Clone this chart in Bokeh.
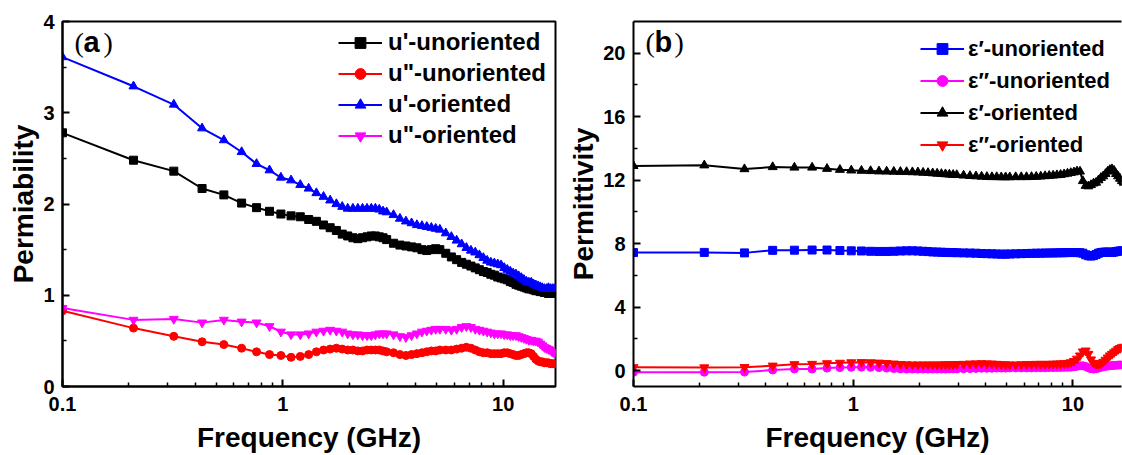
from bokeh.plotting import figure
from bokeh.layouts import row
from bokeh.models import (FixedTicker, CustomJSTickFormatter, Legend, LegendItem,
                          Label, LogAxis, Range1d)
from bokeh.embed import file_html
from bokeh.resources import INLINE

# ---------------- data ----------------
freq = [0.10, 0.21, 0.32, 0.43, 0.54, 0.65, 0.76, 0.87, 0.98, 1.09,
        1.20, 1.31, 1.42, 1.53, 1.64, 1.75, 1.86, 1.97, 2.08, 2.19,
        2.30, 2.41, 2.52, 2.63, 2.74, 2.85, 2.96, 3.18, 3.40, 3.62,
        3.84, 4.06, 4.28, 4.50, 4.72, 4.94, 5.16, 5.49, 5.82, 6.15,
        6.48, 6.81, 7.14, 7.47, 7.80, 8.13, 8.46, 8.79, 9.12, 9.45,
        9.78, 10.11, 10.44, 10.77, 11.10, 11.43, 11.76, 12.09, 12.42, 12.75,
        13.08, 13.41, 13.74, 14.07, 14.40, 14.73, 15.06, 15.39, 15.72, 16.05,
        16.38, 16.71, 17.04, 17.37]

# panel (a) permeability
mu1_unoriented = [2.78, 2.48, 2.36, 2.17, 2.10, 2.01, 1.96, 1.92, 1.89, 1.87,
                  1.86, 1.83, 1.81, 1.77, 1.74, 1.71, 1.67, 1.65, 1.63, 1.62,
                  1.63, 1.64, 1.65, 1.65, 1.64, 1.63, 1.61, 1.57, 1.55, 1.54,
                  1.53, 1.52, 1.50, 1.49, 1.50, 1.51, 1.50, 1.46, 1.42, 1.39,
                  1.36, 1.34, 1.32, 1.30, 1.28, 1.26, 1.25, 1.23, 1.22, 1.20,
                  1.19, 1.18, 1.17, 1.15, 1.14, 1.12, 1.11, 1.10, 1.09, 1.08,
                  1.07, 1.07, 1.06, 1.05, 1.05, 1.04, 1.04, 1.03, 1.03, 1.02,
                  1.02, 1.02, 1.02, 1.02]
mu2_unoriented = [0.83, 0.64, 0.55, 0.49, 0.46, 0.42, 0.38, 0.35, 0.34, 0.32,
                  0.33, 0.35, 0.38, 0.40, 0.41, 0.42, 0.41, 0.40, 0.40, 0.39,
                  0.39, 0.40, 0.40, 0.40, 0.40, 0.39, 0.38, 0.37, 0.35, 0.34,
                  0.35, 0.36, 0.37, 0.38, 0.39, 0.39, 0.40, 0.40, 0.40, 0.41,
                  0.42, 0.43, 0.42, 0.40, 0.38, 0.37, 0.37, 0.36, 0.36, 0.36,
                  0.36, 0.37, 0.37, 0.36, 0.35, 0.34, 0.34, 0.35, 0.36, 0.37,
                  0.37, 0.36, 0.33, 0.30, 0.28, 0.27, 0.27, 0.26, 0.26, 0.26,
                  0.25, 0.25, 0.25, 0.25]
mu1_oriented = [3.61, 3.29, 3.09, 2.83, 2.70, 2.57, 2.44, 2.37, 2.29, 2.26,
                2.21, 2.17, 2.12, 2.08, 2.04, 2.00, 1.97, 1.95, 1.95, 1.95,
                1.95, 1.95, 1.95, 1.95, 1.94, 1.92, 1.91, 1.88, 1.84, 1.81,
                1.79, 1.77, 1.76, 1.75, 1.74, 1.73, 1.72, 1.68, 1.64, 1.60,
                1.56, 1.52, 1.49, 1.47, 1.44, 1.41, 1.38, 1.36, 1.35, 1.34,
                1.33, 1.30, 1.28, 1.26, 1.24, 1.23, 1.21, 1.19, 1.17, 1.15,
                1.14, 1.14, 1.12, 1.11, 1.10, 1.09, 1.08, 1.07, 1.07, 1.08,
                1.07, 1.07, 1.07, 1.07]
mu2_oriented = [0.86, 0.73, 0.74, 0.70, 0.73, 0.71, 0.70, 0.66, 0.60, 0.57,
                0.57, 0.58, 0.60, 0.61, 0.62, 0.61, 0.60, 0.58, 0.57, 0.57,
                0.56, 0.56, 0.56, 0.57, 0.58, 0.58, 0.58, 0.57, 0.55, 0.54,
                0.56, 0.58, 0.60, 0.61, 0.62, 0.63, 0.63, 0.63, 0.62, 0.63,
                0.65, 0.66, 0.65, 0.63, 0.62, 0.61, 0.60, 0.59, 0.58, 0.58,
                0.58, 0.57, 0.57, 0.56, 0.56, 0.56, 0.55, 0.54, 0.53, 0.52,
                0.51, 0.51, 0.50, 0.50, 0.49, 0.47, 0.45, 0.43, 0.42, 0.41,
                0.40, 0.38, 0.37, 0.36]

# panel (b) permittivity
eps1_unoriented = [7.44, 7.45, 7.42, 7.58, 7.59, 7.60, 7.60, 7.57, 7.55, 7.54,
                   7.52, 7.51, 7.51, 7.52, 7.54, 7.55, 7.55, 7.54, 7.52, 7.50,
                   7.48, 7.47, 7.46, 7.45, 7.44, 7.44, 7.43, 7.42, 7.41, 7.40,
                   7.38, 7.37, 7.36, 7.35, 7.34, 7.34, 7.35, 7.36, 7.37, 7.38,
                   7.39, 7.40, 7.40, 7.41, 7.41, 7.42, 7.42, 7.43, 7.43, 7.44,
                   7.44, 7.44, 7.44, 7.43, 7.40, 7.30, 7.24, 7.22, 7.25, 7.32,
                   7.40, 7.44, 7.46, 7.47, 7.47, 7.46, 7.45, 7.47, 7.50, 7.52,
                   7.54, 7.55, 7.56, 7.56]
eps2_unoriented = [-0.10, -0.10, -0.09, 0.04, 0.10, 0.10, 0.16, 0.19, 0.21, 0.22,
                   0.21, 0.19, 0.16, 0.13, 0.11, 0.10, 0.10, 0.10, 0.10, 0.10,
                   0.10, 0.10, 0.10, 0.10, 0.11, 0.11, 0.11, 0.12, 0.13, 0.14,
                   0.15, 0.15, 0.15, 0.16, 0.16, 0.16, 0.17, 0.17, 0.17, 0.17,
                   0.17, 0.18, 0.18, 0.18, 0.19, 0.19, 0.20, 0.20, 0.21, 0.21,
                   0.22, 0.24, 0.27, 0.30, 0.31, 0.26, 0.18, 0.12, 0.10, 0.12,
                   0.16, 0.21, 0.24, 0.27, 0.29, 0.31, 0.32, 0.33, 0.34, 0.35,
                   0.36, 0.36, 0.36, 0.36]
eps1_oriented = [12.90, 12.94, 12.70, 12.83, 12.80, 12.80, 12.72, 12.66, 12.62, 12.60,
                 12.58, 12.56, 12.55, 12.54, 12.53, 12.52, 12.51, 12.50, 12.48, 12.46,
                 12.44, 12.42, 12.40, 12.38, 12.36, 12.34, 12.33, 12.30, 12.27, 12.25,
                 12.23, 12.21, 12.20, 12.20, 12.19, 12.19, 12.19, 12.20, 12.20, 12.20,
                 12.21, 12.22, 12.24, 12.26, 12.28, 12.30, 12.32, 12.34, 12.38, 12.42,
                 12.46, 12.50, 12.56, 12.55, 11.95, 11.65, 11.62, 11.70, 11.80, 11.85,
                 12.00, 12.15, 12.25, 12.40, 12.55, 12.65, 12.70, 12.60, 12.40, 12.25,
                 12.10, 11.95, 11.85, 11.85]
eps2_oriented = [0.21, 0.20, 0.22, 0.31, 0.40, 0.42, 0.46, 0.49, 0.52, 0.53,
                 0.52, 0.50, 0.47, 0.44, 0.41, 0.39, 0.38, 0.38, 0.38, 0.38,
                 0.38, 0.38, 0.38, 0.39, 0.39, 0.40, 0.41, 0.42, 0.44, 0.45,
                 0.46, 0.45, 0.44, 0.42, 0.40, 0.39, 0.38, 0.38, 0.39, 0.40,
                 0.41, 0.42, 0.42, 0.42, 0.42, 0.43, 0.44, 0.45, 0.46, 0.48,
                 0.52, 0.60, 0.75, 0.95, 1.20, 1.26, 1.05, 0.70, 0.48, 0.42,
                 0.42, 0.46, 0.55, 0.68, 0.82, 0.95, 1.05, 1.15, 1.25, 1.35,
                 1.42, 1.47, 1.50, 1.50]

labels_a = ["u'-unoriented", 'u"-unoriented', "u'-oriented", 'u"-oriented']
labels_b = ["\u03b5\u2032-unoriented", "\u03b5\u2033-unoriented",
            "\u03b5\u2032-oriented", "\u03b5\u2033-oriented"]

x_major = [0.1, 1, 10]
x_minor = [0.2, 0.3, 0.4, 0.5, 0.6, 0.7, 0.8, 0.9, 2, 3, 4, 5, 6, 7, 8, 9]
ya_major = [0, 1, 2, 3, 4]
ya_minor = [0.5, 1.5, 2.5, 3.5]
yb_major = [0, 4, 8, 12, 16, 20]
yb_minor = [2, 6, 10, 14, 18]

FONT = "Liberation Sans"
SERIF = "Liberation Serif"


def style_axis(ax):
    ax.axis_line_width = 2
    ax.axis_line_color = "black"
    ax.major_tick_line_width = 2
    ax.minor_tick_line_width = 1.5
    ax.major_tick_in = 7
    ax.major_tick_out = 0
    ax.minor_tick_in = 4
    ax.minor_tick_out = 0
    ax.major_label_text_font = FONT
    ax.major_label_text_font_style = "bold"
    ax.major_label_text_font_size = "20px"
    ax.major_label_text_color = "black"
    ax.axis_label_text_font = FONT
    ax.axis_label_text_font_style = "bold"
    ax.axis_label_text_font_size = "28px"
    ax.axis_label_text_color = "black"


def make_fig(width, bl, br, x_end, y_rng, ymaj, ymin, ylabel):
    p = figure(width=width, height=455, x_axis_type="log",
               x_range=Range1d(0.1, x_end), y_range=Range1d(*y_rng),
               output_backend="svg", toolbar_location=None,
               min_border_left=bl, min_border_right=br,
               min_border_top=21, min_border_bottom=69)
    p.grid.visible = False
    p.background_fill_color = "white"
    p.border_fill_color = "white"
    p.xaxis.ticker = FixedTicker(ticks=x_major, minor_ticks=x_minor)
    p.xaxis.formatter = CustomJSTickFormatter(code="return tick.toString();")
    p.yaxis.ticker = FixedTicker(ticks=ymaj, minor_ticks=ymin)
    p.xaxis.axis_label = "Frequency (GHz)"
    p.yaxis.axis_label = ylabel
    style_axis(p.xaxis[0])
    style_axis(p.yaxis[0])
    p.xaxis.major_label_standoff = 10
    p.xaxis.axis_label_standoff = 8
    p.yaxis.major_label_standoff = 8
    p.yaxis.axis_label_standoff = 1
    return p


def add_series(p, y, color, marker, size):
    ln = p.line(freq, y, line_color=color, line_width=2)
    sc = p.scatter(freq, y, marker=marker, size=size, fill_color=color,
                   line_color=color)
    return [ln, sc]


def add_legend(p, rends, labels, loc, spacing, gw, standoff, fsize):
    items = [LegendItem(label=l, renderers=r) for l, r in zip(labels, rends)]
    leg = Legend(items=items, location=loc, padding=0, margin=0,
                 spacing=spacing, glyph_width=gw, glyph_height=27,
                 label_height=27, label_standoff=standoff,
                 border_line_color=None, background_fill_alpha=0,
                 label_text_font=FONT, label_text_font_style="bold",
                 label_text_font_size=fsize, label_text_color="black")
    p.add_layout(leg)


def add_tag(p, letter, xs):
    p.add_layout(Label(x=xs[0], y=329, x_units="screen", y_units="screen",
                       text="(", text_font=SERIF, text_font_size="28px",
                       text_color="black"))
    p.add_layout(Label(x=xs[1], y=329, x_units="screen", y_units="screen",
                       text=letter, text_font=FONT, text_font_style="bold",
                       text_font_size="29px", text_color="black"))
    p.add_layout(Label(x=xs[2], y=329, x_units="screen", y_units="screen",
                       text=")", text_font=SERIF, text_font_size="28px",
                       text_color="black"))


# ---------------- panel (a) ----------------
pa = make_fig(565, 62, 10, 17.28, (0, 4), ya_major, ya_minor, "Permiability")
pa.outline_line_color = "black"
pa.outline_line_width = 2
ra = [
    add_series(pa, mu1_unoriented, "#000000", "square", 8),
    add_series(pa, mu2_unoriented, "#ff0000", "circle", 8),
    add_series(pa, mu1_oriented, "#0000ff", "triangle", 9),
    add_series(pa, mu2_oriented, "#ff00ff", "inverted_triangle", 9),
]
add_legend(pa, ra, labels_a, (276, 237), 3, 44, 6, "24px")
add_tag(pa, "a", (12, 21, 41))

# ---------------- panel (b) ----------------
pb = make_fig(557, 64, 1, 16.64, (-1, 22), yb_major, yb_minor, "Permittivity")
pb.outline_line_color = None
top = LogAxis(ticker=FixedTicker(ticks=[], minor_ticks=[]), axis_line_width=2,
              axis_line_color="black", major_tick_in=0, major_tick_out=0,
              minor_tick_in=0, minor_tick_out=0,
              major_label_text_font_size="0px")
pb.add_layout(top, "above")
rb = [
    add_series(pb, eps1_unoriented, "#0000ff", "square", 8),
    add_series(pb, eps2_unoriented, "#ff00ff", "circle", 8),
    add_series(pb, eps1_oriented, "#000000", "triangle", 9),
    add_series(pb, eps2_oriented, "#ff0000", "inverted_triangle", 9),
]
add_legend(pb, rb, labels_b, (287, 228), 5, 44, 4, "22px")
add_tag(pb, "b", (12, 21, 41))

layout = row(pa, pb, spacing=0)
open("out.html", "w").write(file_html(layout, INLINE))
